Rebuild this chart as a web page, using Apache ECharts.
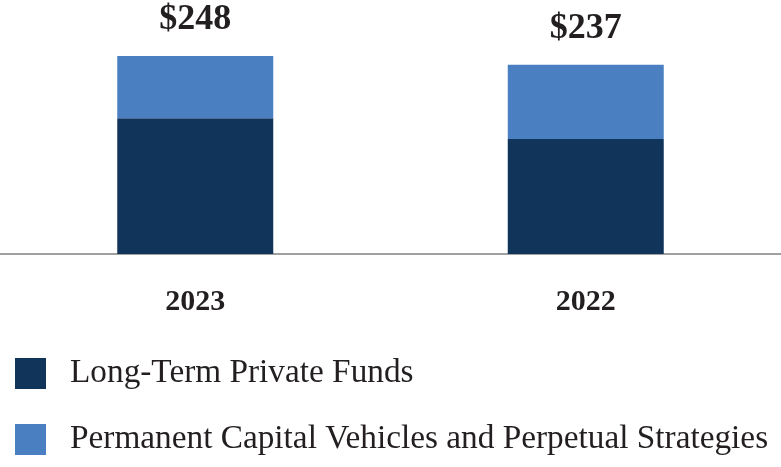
<!DOCTYPE html>
<html><head><meta charset="utf-8">
<script src="https://cdn.jsdelivr.net/npm/echarts@6/dist/echarts.min.js"></script>
<style>html,body{margin:0;padding:0;background:#fff}#c{width:781px;height:467px}</style>
</head><body><div id="c"></div>
<script>
const categories = ['2023', '2022'];
const longTermFunds = [170, 144];
const permanentCapital = [78, 93];
const totals = [248, 237];
const seriesNames = ['Long-Term Private Funds', 'Permanent Capital Vehicles and Perpetual Strategies'];

const serif = "'Liberation Serif', 'Times New Roman', serif";
const chart = echarts.init(document.getElementById('c'), null, {renderer: 'canvas'});
chart.setOption({
  animation: false,
  backgroundColor: '#fff',
  grid: {left: 0, right: 0, top: 56, bottom: 213, containLabel: false},
  xAxis: {
    type: 'category', data: categories,
    axisLine: {lineStyle: {color: '#a0a0a0', width: 2}},
    axisTick: {show: false},
    axisLabel: {fontFamily: serif, fontWeight: 'bold', fontSize: 30, color: '#231f20', margin: 33}
  },
  yAxis: {type: 'value', min: 0, max: 248, show: false, splitLine: {show: false}},
  legend: {
    orient: 'vertical', left: 15, top: 357, padding: 0, itemWidth: 31, itemHeight: 31, itemGap: 33,
    icon: 'rect',
    textStyle: {fontFamily: serif, fontSize: 33.3, color: '#231f20', padding: [28, 0, 0, 19]},
    data: seriesNames
  },
  series: [
    {name: seriesNames[0], type: 'bar', stack: 't', data: longTermFunds, barWidth: 156,
     itemStyle: {color: '#11355a'}},
    {name: seriesNames[1], type: 'bar', stack: 't', data: permanentCapital, barWidth: 156,
     itemStyle: {color: '#4a7fc1'},
     label: {show: true, position: 'top', distance: 18, fontFamily: serif, fontWeight: 'bold',
       fontSize: 36, color: '#231f20',
       formatter: p => '$' + totals[p.dataIndex]}}
  ]
});
</script></body></html>
